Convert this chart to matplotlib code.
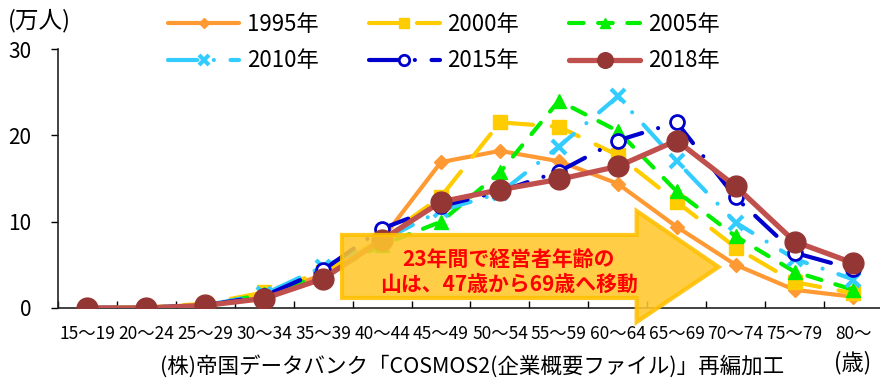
import matplotlib
matplotlib.use("Agg")
import matplotlib.pyplot as plt
from matplotlib.patches import Polygon

plt.rcParams['font.family'] = ['Noto Sans CJK JP', 'DejaVu Sans']

categories = ['15～19', '20～24', '25～29', '30～34', '35～39', '40～44', '45～49',
              '50～54', '55～59', '60～64', '65～69', '70～74', '75～79', '80～']
y1995 = [0.0, 0.05, 0.2, 1.3, 3.9, 8.0, 16.9, 18.2, 17.0, 14.4, 9.4, 5.0, 2.1, 1.3]
y2000 = [0.0, 0.05, 0.5, 1.8, 4.2, 8.0, 12.9, 21.5, 21.0, 17.7, 12.3, 7.0, 3.0, 1.7]
y2005 = [0.0, 0.05, 0.3, 1.6, 3.8, 7.3, 10.0, 15.7, 24.0, 20.5, 13.5, 8.3, 4.2, 2.1]
y2010 = [0.0, 0.05, 0.3, 1.6, 4.8, 7.8, 11.3, 13.3, 18.7, 24.5, 17.0, 9.9, 5.7, 3.3]
y2015 = [0.0, 0.05, 0.3, 1.4, 4.4, 9.2, 11.8, 13.5, 15.8, 19.4, 21.5, 12.8, 6.4, 4.5]
y2018 = [0.0, 0.0, 0.3, 1.1, 3.4, 7.9, 12.3, 13.7, 14.9, 16.4, 19.4, 14.1, 7.7, 5.2]
labels = ['1995年', '2000年', '2005年', '2010年', '2015年', '2018年']

fig = plt.figure(figsize=(8.8, 3.79), dpi=100)
ax = fig.add_axes([58/880, 1-308/379, 1-58/880, (308-49)/379])
x = list(range(len(categories)))

lw = 3.0
common = dict(linewidth=lw, solid_capstyle='round', dash_capstyle='round')
h1, = ax.plot(x, y1995, color='#FF9933', marker='D', markersize=7, **common, zorder=2)
h2, = ax.plot(x, y2000, color='#FFCC00', marker='s', markersize=10,
              linestyle=(0, (7, 4.5)), **common, zorder=3)
h3, = ax.plot(x, y2005, color='#00EE00', marker='^', markersize=10,
              linestyle=(0, (3.5, 3.5)), **common, zorder=4)
h4, = ax.plot(x, y2010, color='#33CCFF', marker='x', markersize=10, markeredgewidth=3,
              linestyle=(0, (7, 4, 0.01, 4)), **common, zorder=5)
h5, = ax.plot(x, y2015, color='#0000CC', marker='o', markersize=10, markerfacecolor='white',
              markeredgewidth=2, linestyle=(0, (7, 4, 0.01, 4)), **common, zorder=6)
h6, = ax.plot(x, y2018, color='#C0504D', marker='o', markersize=15, markerfacecolor='#943634',
              markeredgecolor='#943634', linewidth=3.8, solid_capstyle='round', zorder=7)
handles = [h1, h2, h3, h4, h5, h6]

ax.set_xlim(-0.5, 13.45)
ax.set_ylim(0, 30)
ax.set_yticks([0, 10, 20, 30])
ax.set_xticks(x)
ax.set_xticklabels(categories, fontsize=12.5)
ax.set_xticks([i + 0.5 for i in range(-1, 13)], minor=True)
ax.tick_params(axis='x', which='major', length=0, pad=12)
ax.tick_params(axis='x', which='minor', direction='in', length=5, width=1)
ax.tick_params(axis='y', direction='out', length=5, width=1, pad=14, labelsize=15)
for s in ['top', 'right']:
    ax.spines[s].set_visible(False)
for s in ['left', 'bottom']:
    ax.spines[s].set_linewidth(1.2)
    ax.spines[s].set_color('#222222')

# Arrow annotation
arrow = Polygon([(4.32, 8.46), (9.32, 8.46), (9.32, 11.24), (10.71, 4.75),
                 (9.32, -1.62), (9.32, 1.16), (4.32, 1.16)], closed=True,
                facecolor='#FFC72C', edgecolor='#FFC000', linewidth=3, alpha=0.88,
                zorder=10, clip_on=False)
ax.add_patch(arrow)
ax.text(7.15, 4.2, '23年間で経営者年齢の\n山は、47歳から69歳へ移動', color='#FF0000',
        fontsize=15, fontweight='bold', ha='center', va='center', linespacing=1.2,
        zorder=11)

# legend filled row-wise (matplotlib fills column-wise, so reorder)
order = [0, 3, 1, 4, 2, 5]
leg = fig.legend([handles[i] for i in order], [labels[i] for i in order], ncol=3,
                 loc='upper left', bbox_to_anchor=(168/880, 1 - 13/379), frameon=False,
                 fontsize=16, handlelength=3.2, handletextpad=0.35, columnspacing=2.25,
                 labelspacing=0.6, borderpad=0, borderaxespad=0, numpoints=1,
                 markerscale=0.75)

fig.text(8/880, 1 - 21/379, '(万人)', fontsize=17, ha='left', va='center')
fig.text(472/880, 1 - 366/379, '(株)帝国データバンク「COSMOS2(企業概要ファイル)」再編加工',
         fontsize=15.5, ha='center', va='center')
fig.text(853/880, 1 - 363/379, '(歳)', fontsize=16, ha='center', va='center')

fig.savefig('out.png', dpi=100)
